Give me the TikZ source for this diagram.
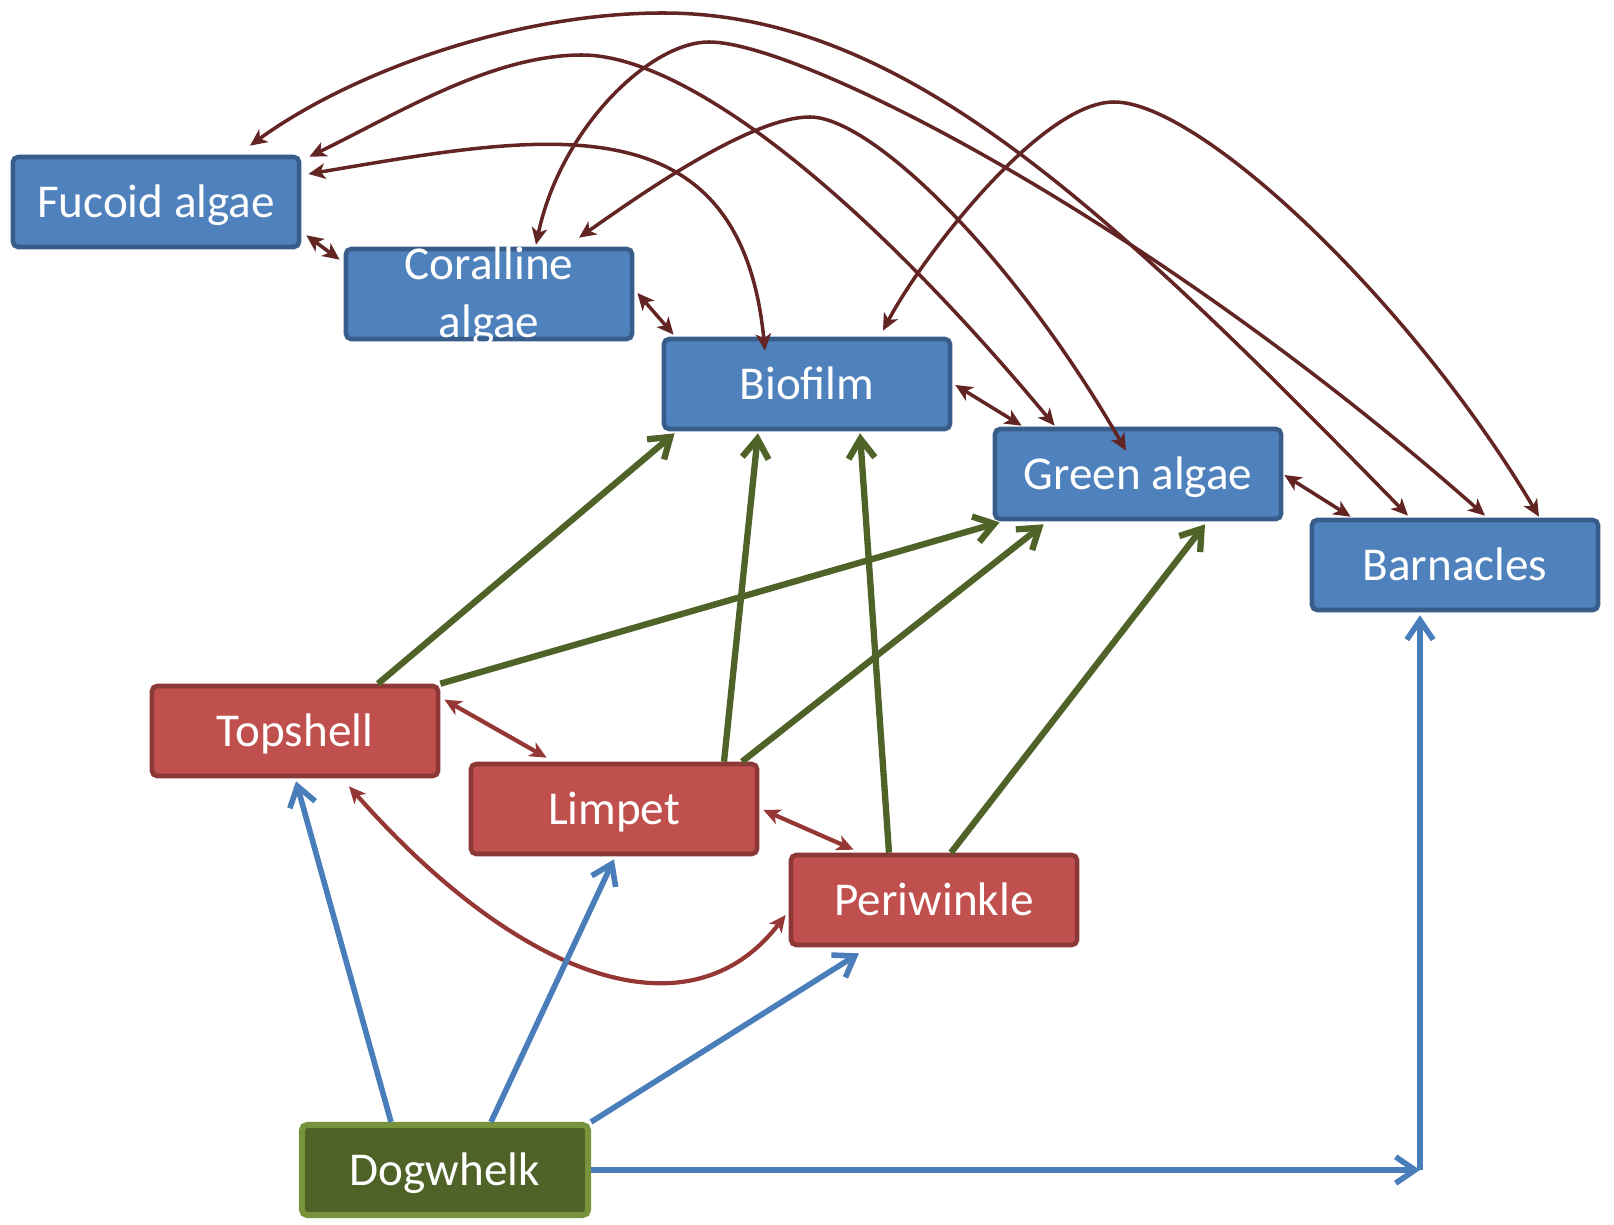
\documentclass[tikz,border=0pt]{standalone}
\usepackage{fontspec}
\setmainfont{Carlito}
\usepackage{xcolor}
\usepackage{tikz}
\usetikzlibrary{arrows.meta, calc}

\definecolor{algaefill}{RGB}{79,129,189}
\definecolor{algaeedge}{RGB}{56,93,138}
\definecolor{grazerfill}{RGB}{192,80,77}
\definecolor{grazeredge}{RGB}{140,56,54}
\definecolor{whelkfill}{RGB}{79,98,40}
\definecolor{whelkedge}{RGB}{119,147,60}
\definecolor{linkred}{RGB}{99,37,35}
\definecolor{rivalred}{RGB}{149,55,53}
\definecolor{grazegreen}{RGB}{79,98,40}
\definecolor{preyblue}{RGB}{74,126,187}

\tikzstyle{species} = [rectangle, rounded corners=1.5pt, minimum width=2.86cm, minimum height=0.9cm, inner sep=0pt, text=white, font=\fontsize{13.4}{16.5}\selectfont, text height=8.6pt, text depth=0pt, line width=1.3pt]
\tikzstyle{alga} = [species, draw=algaeedge, fill=algaefill]
\tikzstyle{grazer} = [species, draw=grazeredge, fill=grazerfill]
\tikzstyle{predator} = [species, draw=whelkedge, fill=whelkfill, line width=1.7pt]
\tikzstyle{interact} = [line width=1pt, draw=linkred, <->, >={Stealth[length=4.8pt,width=4.4pt,inset=1.3pt]}]
\tikzstyle{rival} = [line width=1.2pt, draw=rivalred, <->, >={Stealth[length=4.8pt,width=4.4pt,inset=1.3pt]}]
\tikzstyle{graze} = [line width=1.8pt, draw=grazegreen, ->, >={Straight Barb[length=5.5pt,width=7.5pt]}]
\tikzstyle{prey} = [line width=1.6pt, draw=preyblue, ->, >={Straight Barb[length=5.5pt,width=7.5pt]}]

\begin{document}
\begin{tikzpicture}[x=0.01cm, y=-0.01cm]
        \useasboundingbox (0,0) rectangle (1614,1225);

        % Nodes
        \node (fucoid) [alga] at (156,202) {Fucoid algae};
        \node (coralline) [alga] at (489,294) {\raisebox{-8.1pt}[0pt][0pt]{\begin{tabular}[b]{@{}c@{}}Coralline\\algae\end{tabular}}};
        \node (biofilm) [alga] at (807,384) {Biofilm};
        \node (green) [alga] at (1138,474) {Green algae};
        \node (barnacles) [alga] at (1455,565) {Barnacles};

        \node (topshell) [grazer] at (295,731) {Topshell};
        \node (limpet) [grazer] at (614,809) {Limpet};
        \node (periwinkle) [grazer] at (934,900) {Periwinkle};

        \node (dogwhelk) [predator] at (445,1170) {Dogwhelk};
        \coordinate (corner) at (1420,1170);

        % Neighbouring algae
        \draw [interact] ([shift={(5,-14)}]fucoid.south east) -- ([shift={(-4,13)}]coralline.north west);
        \draw [interact] ([shift={(3,-1)}]coralline.east) -- ([shift={(12,-2)}]biofilm.north west);
        \draw [interact] ([shift={(3,1)}]biofilm.east) -- ([shift={(29,-1)}]green.north west);
        \draw [interact] ([shift={(1,1)}]green.east) -- ([shift={(41,-1)}]barnacles.north west);

        % Long arcs over the top
        \draw [interact] ([shift={(94,-9)}]fucoid.north) .. controls (350,73) and (513,13) .. (663,13)
            .. controls (900,13) and (1100,200) .. ([shift={(-47,-2)}]barnacles.north);
        \draw [interact] ([shift={(8,2)}]fucoid.north east) .. controls (399,113) and (492,55) .. (582,55)
            .. controls (680,55) and (850,180) .. ([shift={(62,-1)}]green.north west);
        \draw [interact] ([shift={(7,-28)}]fucoid.east) .. controls (540,135) and (740,95) .. ([shift={(-42,14)}]biofilm.north);
        \draw [interact] ([shift={(47,-2)}]coralline.north) .. controls (560,130) and (649,42) .. (709,42)
            .. controls (800,42) and (1150,220) .. ([shift={(30,-2)}]barnacles.north);
        \draw [interact] ([shift={(90,-9)}]coralline.north) .. controls (640,195) and (750,117) .. (810,117)
            .. controls (870,117) and (1010,250) .. ([shift={(-12,24)}]green.north);
        \draw [interact] ([shift={(76,-6)}]biofilm.north) .. controls (920,260) and (1040,102) .. (1114,102)
            .. controls (1200,102) and (1410,300) .. ([shift={(84,-1)}]barnacles.north);

        % Grazers
        \draw [rival] ([shift={(4,16)}]topshell.north east) -- ([shift={(78,-4)}]limpet.north west);
        \draw [rival] ([shift={(4,1)}]limpet.east) -- ([shift={(65,-3)}]periwinkle.north west);
        \draw [rival] ([shift={(54,8)}]topshell.south) .. controls (520,980) and (690,1040) .. ([shift={(-3,15)}]periwinkle.west);

        \draw [graze] ([shift={(83,0)}]topshell.north) -- ([shift={(13,2)}]biofilm.south west);
        \draw [graze] (topshell.north east) -- ([shift={(7,1)}]green.south west);
        \draw [graze] ([shift={(110,0)}]limpet.north) -- ([shift={(-49,2)}]biofilm.south);
        \draw [graze] ([shift={(128,0)}]limpet.north) -- ([shift={(51,3)}]green.south west);
        \draw [graze] ([shift={(-45,0)}]periwinkle.north) -- ([shift={(53,2)}]biofilm.south);
        \draw [graze] ([shift={(17,0)}]periwinkle.north) -- ([shift={(67,3)}]green.south);

        % Dogwhelk
        \draw [prey] ([shift={(-54,0)}]dogwhelk.north) -- ([shift={(1,3)}]topshell.south);
        \draw [prey] ([shift={(46,0)}]dogwhelk.north) -- ([shift={(0,3)}]limpet.south);
        \draw [prey] (dogwhelk.north east) -- ([shift={(-75,6)}]periwinkle.south);
        \draw [prey] (dogwhelk.east) -- (corner);
        \draw [prey] (corner) -- ([shift={(-35,3)}]barnacles.south);
    \end{tikzpicture}
\end{document}
